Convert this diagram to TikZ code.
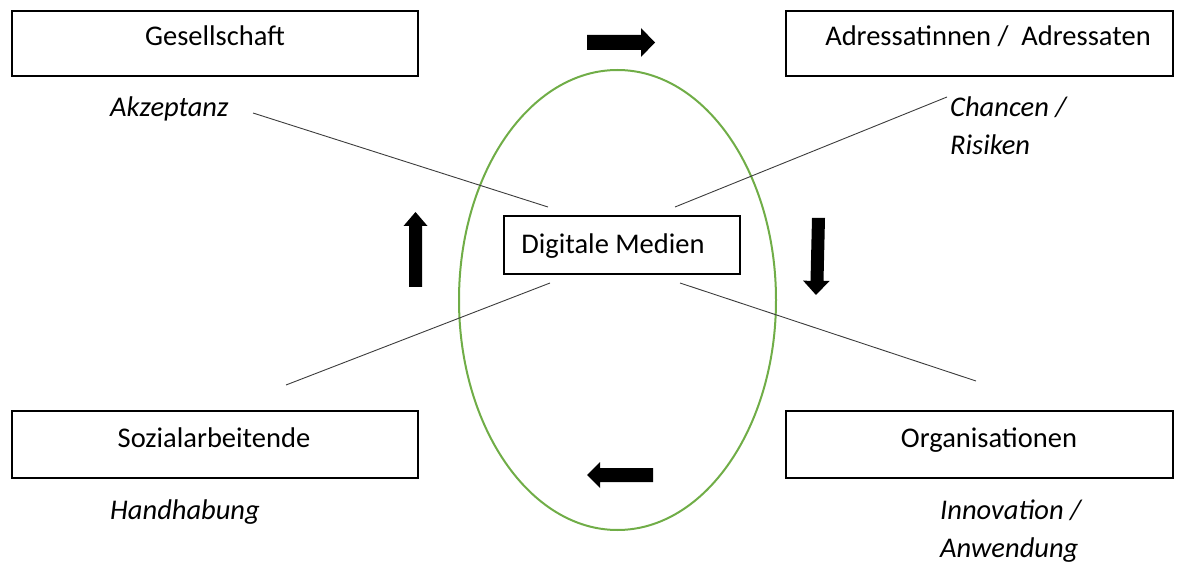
\documentclass[tikz,border=0pt]{standalone}
\usepackage{fontspec}
\setmainfont{Carlito}
\definecolor{ellgreen}{RGB}{112,173,71}
\definecolor{linegray}{RGB}{60,60,60}
\begin{document}
\begin{tikzpicture}[x=1pt,y=-1pt,
  box/.style={draw=black, line width=2pt, inner sep=0pt, anchor=north west},
  lbl/.style={font=\fontsize{28.5}{38}\selectfont, inner sep=0pt, anchor=base},
  ilbl/.style={font=\fontsize{28.5}{38}\selectfont\itshape, inner sep=0pt, anchor=base west},
  conn/.style={draw=linegray, line width=0.9pt},
  blk/.style={fill=black}
]
\useasboundingbox (0,0) rectangle (1187,564);
% ellipse
\draw[ellgreen, line width=2pt] (617.5,300) ellipse [x radius=158.5, y radius=230];
% boxes
\node[box, minimum width=406, minimum height=65] (ges) at (11,10) {};
\node[box, minimum width=387, minimum height=65] (adr) at (785,10) {};
\node[box, minimum width=406, minimum height=67] (soz) at (11,410) {};
\node[box, minimum width=387, minimum height=67] (org) at (785,410) {};
\node[box, fill=white, minimum width=236, minimum height=58] (dm) at (503,215) {};
% box texts
\node[lbl] (gest) at (215,46) {Gesellschaft};
\node[lbl] (adrt) at (988,46) {Adressatinnen /\ \ Adressaten};
\node[lbl] (sozt) at (214,447) {Sozialarbeitende};
\node[lbl] (orgt) at (989,447) {Organisationen};
\node[lbl] (dmt) at (613,254) {Digitale Medien};
% italic labels
\node[ilbl] (akz) at (110,117) {Akzeptanz};
\node[ilbl] (cha) at (950,117) {Chancen /};
\node[ilbl] (ris) at (950,155) {Risiken};
\node[ilbl] (han) at (110,519) {Handhabung};
\node[ilbl] (inn) at (940,519) {Innovation /};
\node[ilbl] (anw) at (940,557) {Anwendung};
% connector end points
\coordinate (a1) at (253,113);
\coordinate (a2) at (548,207);
\coordinate (c1) at (947,97);
\coordinate (c2) at (675,207);
\coordinate (h1) at (286,385);
\coordinate (h2) at (550,283);
\coordinate (i1) at (976,381);
\coordinate (i2) at (680,283);
\draw[conn] (a1) -- (a2);
\draw[conn] (c1) -- (c2);
\draw[conn] (h1) -- (h2);
\draw[conn] (i1) -- (i2);
% block arrows
\fill[blk] (587,35) -- (641,35) -- (641,28) -- (655,42.5) -- (641,57) -- (641,50) -- (587,50) -- cycle;
\fill[blk] (409,287) -- (409,226) -- (403.5,226) -- (415.5,212) -- (427.5,226) -- (422,226) -- (422,287) -- cycle;
\fill[blk] (812,218) -- (825,218) -- (823.5,281) -- (829.5,281) -- (816,295) -- (803,280.5) -- (810.5,281) -- cycle;
\fill[blk] (653,468) -- (600,468) -- (600,462) -- (587,475) -- (600,488) -- (600,482) -- (653,482) -- cycle;
\end{tikzpicture}
\end{document}
